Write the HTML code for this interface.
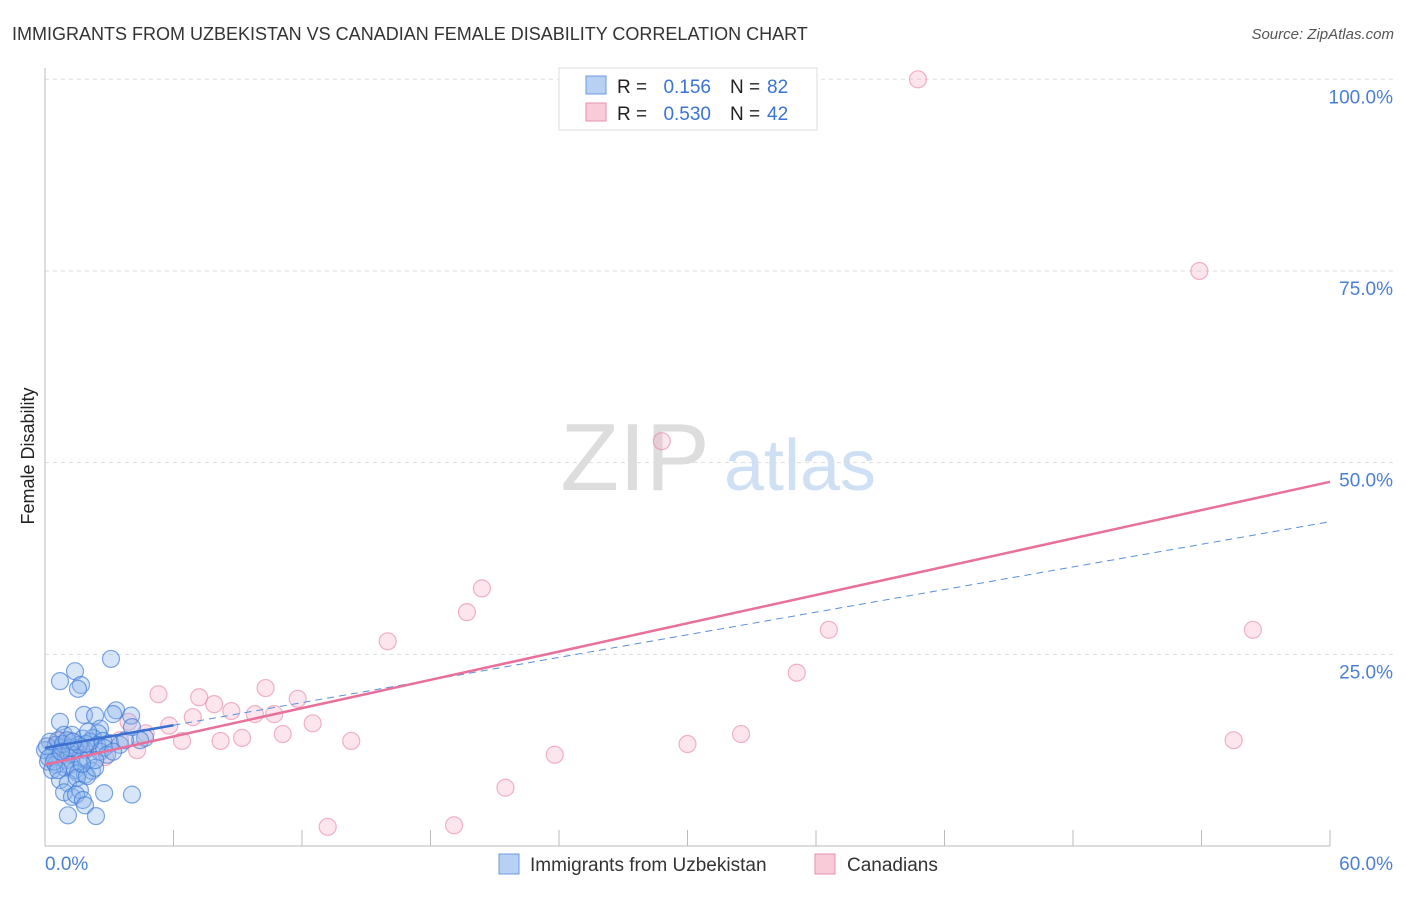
<!DOCTYPE html>
<html><head><meta charset="utf-8"><style>
body{margin:0;background:#fff;font-family:"Liberation Sans",sans-serif;}
svg text{font-family:"Liberation Sans",sans-serif;}
</style></head><body>
<svg id="chart" width="1406" height="892" xmlns="http://www.w3.org/2000/svg">
<text x="12" y="40" font-size="18" fill="#333">IMMIGRANTS FROM UZBEKISTAN VS CANADIAN FEMALE DISABILITY CORRELATION CHART</text>
<text x="1394" y="39" font-size="15" fill="#555" font-style="italic" text-anchor="end">Source: ZipAtlas.com</text>
<text transform="translate(34,456) rotate(-90)" font-size="18" fill="#222" text-anchor="middle">Female Disability</text>
<g>
<text x="635" y="490" font-size="96" fill="#ddd" font-family="Liberation Serif,serif" text-anchor="middle">ZIP</text>
<text x="800" y="490" font-size="72" fill="#cfe0f5" text-anchor="middle">atlas</text>
</g>
<g id="grid"></g>
<g id="axes"></g>
<g id="pts"></g>
<g id="lines"></g>
<g>
<rect x="559" y="68" width="258" height="62" fill="#fff" stroke="#ddd"/>
<rect x="586" y="76" width="20" height="18" fill="#b8d1f3" stroke="#6a9be0"/>
<rect x="586" y="103" width="20" height="18" fill="#f9cad8" stroke="#e891ad"/>
<text x="617" y="93" font-size="19" fill="#222">R =</text>
<text x="711" y="93" font-size="19" fill="#3b73d4" text-anchor="end">0.156</text>
<text x="730" y="93" font-size="19" fill="#222">N =</text>
<text x="767" y="93" font-size="19" fill="#3b73d4">82</text>
<text x="617" y="120" font-size="19" fill="#222">R =</text>
<text x="711" y="120" font-size="19" fill="#3b73d4" text-anchor="end">0.530</text>
<text x="730" y="120" font-size="19" fill="#222">N =</text>
<text x="767" y="120" font-size="19" fill="#3b73d4">42</text>
</g>
<g>
<rect x="499" y="854" width="20" height="20" fill="#b8d1f3" stroke="#6a9be0"/>
<text x="530" y="871" font-size="19" fill="#333">Immigrants from Uzbekistan</text>
<rect x="815" y="854" width="20" height="20" fill="#f9cad8" stroke="#e891ad"/>
<text x="847" y="871" font-size="19" fill="#333">Canadians</text>
</g>
</svg>
<script>
const xTicks=[0,6,12,18,24,30,36,42,48,54,60];
const yTicks=[25,50,75,100];
const yTickLabels=["25.0%","50.0%","75.0%","100.0%"];
const blueX=[3.08,1.40,0.70,1.68,1.54,1.82,2.34,3.32,4.02,0.70,3.18,2.57,2.48,4.06,4.67,0.89,1.26,1.77,2.24,2.71,0.23,0.51,0.79,1.07,1.40,1.87,2.43,3.04,0.37,0.70,0.98,1.26,1.63,2.01,2.57,2.76,0.14,0.51,0.93,1.40,0.33,1.17,1.54,1.87,2.19,0.70,1.07,1.49,1.96,2.34,0.89,1.26,1.63,1.45,1.77,1.87,2.76,4.06,1.07,2.38,0.0,0.09,0.61,2.10,3.50,4.44,0.84,1.17,1.59,1.91,0.19,0.42,1.03,1.31,2.90,3.18,3.74,2.01,0.75,2.34,1.73,0.61];
const blueY=[24.4,22.8,21.5,21.0,20.5,17.1,17.0,17.7,17.0,16.2,17.2,15.3,14.7,15.5,14.1,14.5,14.5,14.0,14.1,13.7,13.6,13.2,12.8,12.3,12.8,12.5,13.2,13.4,11.9,11.6,11.2,11.9,11.5,11.2,12.3,12.8,11.0,10.6,10.2,9.9,9.9,10.6,9.5,9.3,9.8,8.6,8.2,8.9,9.1,10.2,7.0,6.4,7.3,6.7,6.0,5.3,6.9,6.7,4.0,3.9,12.5,13.0,13.8,13.6,13.2,13.8,13.3,12.8,13.2,13.3,11.5,11.0,13.8,13.6,11.9,12.3,13.8,14.9,12.3,11.2,10.7,9.9];
const pinkX=[40.76,53.9,28.8,20.4,19.7,16.0,36.6,56.4,35.1,10.3,5.3,7.2,11.8,7.9,8.7,9.8,10.7,6.9,12.5,5.8,3.9,4.7,11.1,9.2,14.3,6.4,8.2,32.5,30.0,55.5,23.8,21.5,13.2,19.1,4.3,2.8,1.2,0.7,0.5,1.0,2.0,3.5];
const pinkY=[100.0,75.0,52.8,33.6,30.5,26.7,28.2,28.2,22.6,20.6,19.8,19.4,19.2,18.5,17.6,17.2,17.2,16.8,16.0,15.7,16.2,14.7,14.6,14.1,13.7,13.7,13.7,14.6,13.3,13.8,11.9,7.6,2.5,2.7,12.5,11.6,13.7,13.8,13.2,12.5,12.8,13.8];
const blueTrend=[12.8,42.3];
const pinkTrend=[10.6,47.5];
const X=v=>45+v/60*1285, Y=v=>846-v*7.667;
const NS="http://www.w3.org/2000/svg";
function mk(parent,tag,attrs){const e=document.createElementNS(NS,tag);for(const k in attrs)e.setAttribute(k,attrs[k]);document.getElementById(parent).appendChild(e);return e;}
yTicks.forEach((t,i)=>{
 const g=mk('grid','line',{x1:45,x2:1394,y1:Y(t),y2:Y(t),stroke:'#ddd','stroke-dasharray':'4,4'});
 
 
 const l=mk('grid','text',{x:1393,y:Y(t)+24,'font-size':19,fill:'#4a7fd6','text-anchor':'end'});
 l.textContent=yTickLabels[i];
 
 
});
const ax=mk('axes','line',{x1:45,x2:45,y1:68,y2:846,stroke:'#bbb'});


const bx=mk('axes','line',{x1:45,x2:1330,y1:846,y2:846,stroke:'#bbb'});


xTicks.forEach(t=>{
 const k=mk('axes','line',{x1:X(t),x2:X(t),y1:830,y2:846,stroke:'#bbb'});
 
 
});
const l0=mk('axes','text',{x:45,y:870,'font-size':19,fill:'#4a7fd6'});l0.textContent=xTicks[0].toFixed(1)+'%';


const l1=mk('axes','text',{x:1393,y:870,'font-size':19,fill:'#4a7fd6','text-anchor':'end'});l1.textContent=xTicks[xTicks.length-1].toFixed(1)+'%';


pinkX.forEach((x,i)=>{
 const c=mk('pts','circle',{cx:X(x),cy:Y(pinkY[i]),r:8.5,fill:'rgba(245,170,195,0.3)',stroke:'rgba(232,130,165,0.6)','stroke-width':1.2});
 
 
});
blueX.forEach((x,i)=>{
 const c=mk('pts','circle',{cx:X(x),cy:Y(blueY[i]),r:8.5,fill:'rgba(140,180,235,0.35)',stroke:'rgba(60,120,215,0.65)','stroke-width':1.2});
 
 
});
const bt=v=>blueTrend[0]+(blueTrend[1]-blueTrend[0])*v/60;
const bd=mk('lines','line',{x1:X(6),y1:Y(bt(6)),x2:X(60),y2:Y(bt(60)),stroke:'#5b8fd9','stroke-width':1,'stroke-dasharray':'7,5'});


const bs=mk('lines','line',{x1:X(0),y1:Y(bt(0)),x2:X(6),y2:Y(bt(6)),stroke:'#3b6fd0','stroke-width':2.5});


const pt=mk('lines','line',{x1:X(0),y1:Y(pinkTrend[0]),x2:X(60),y2:Y(pinkTrend[1]),stroke:'#e8709a','stroke-width':2.5});


</script>
</body></html>
